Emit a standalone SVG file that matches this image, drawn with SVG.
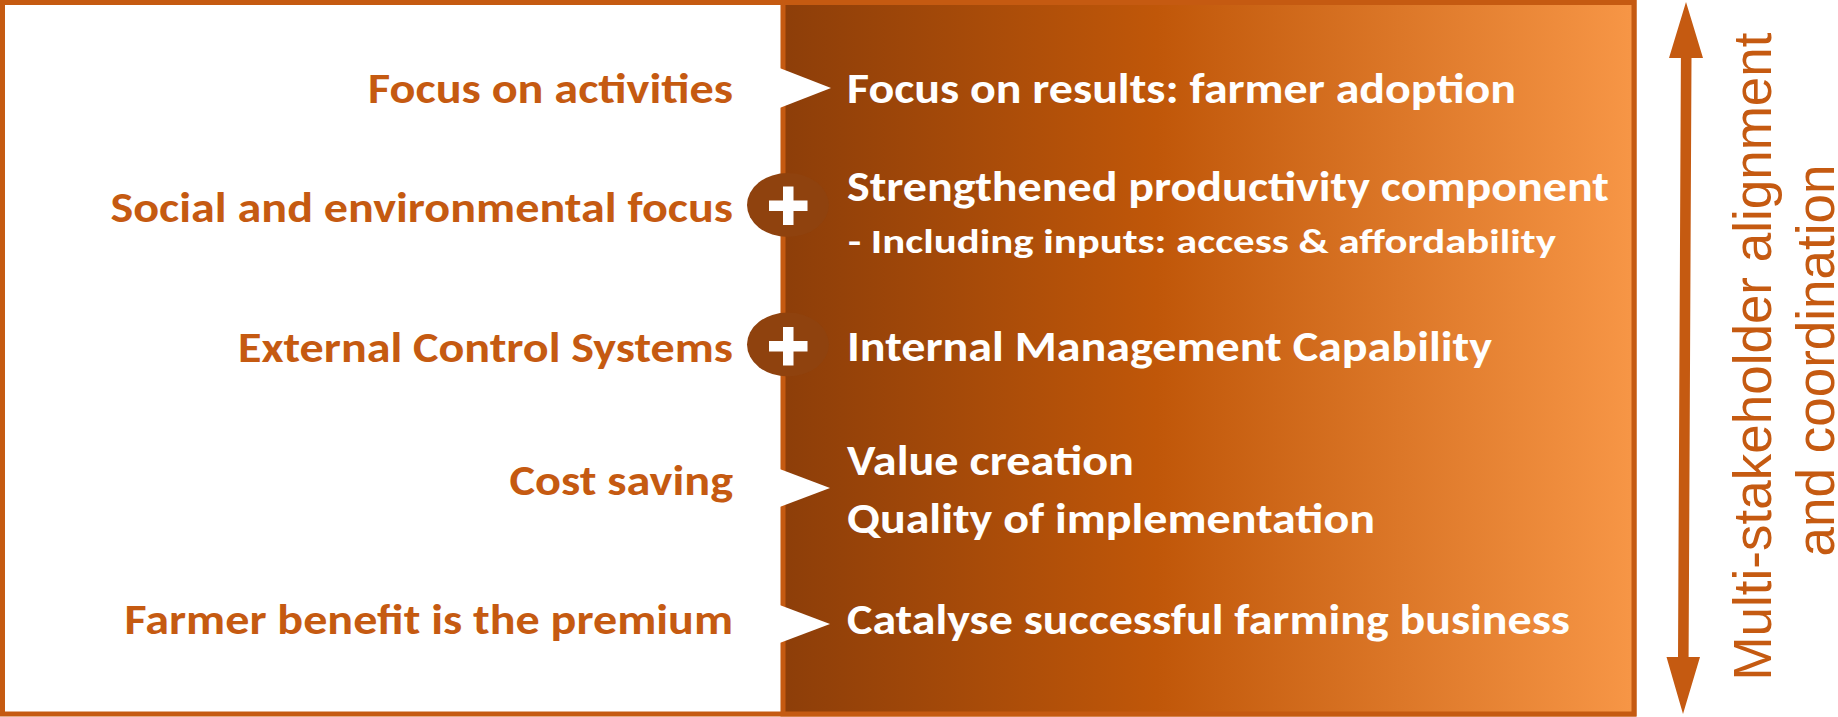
<svg xmlns="http://www.w3.org/2000/svg" width="1838" height="717" viewBox="0 0 1838 717">
  <style>
    .lt { font-family: Carlito, Lato, "Open Sans", sans-serif; font-weight: bold; font-size: 42px; fill: #C55A11; text-anchor: end; }
    .rt { font-family: Carlito, Lato, "Open Sans", sans-serif; font-weight: bold; font-size: 42px; fill: #FFFFFF; }
    .rs { font-family: Carlito, Lato, "Open Sans", sans-serif; font-weight: bold; font-size: 35px; fill: #FFFFFF; }
    .vt { font-family: "Liberation Sans", Arial, sans-serif; font-size: 53px; fill: #C55A11; text-anchor: middle; }
    .notch { fill: #FFFFFF; }
    .plusbg { fill: #8F420E; }
    .plus { fill: #FFFFFF; }
  </style>
  <defs>
    <linearGradient id="grad" x1="0" y1="0" x2="1" y2="0">
      <stop offset="0" stop-color="#8D3E09"/>
      <stop offset="0.44" stop-color="#C05709"/>
      <stop offset="1" stop-color="#F79646"/>
    </linearGradient>
  </defs>

  <g id="frame">
    <rect x="2.5" y="2.5" width="1631.5" height="711.5" fill="#FFFFFF" stroke="#C55A11" stroke-width="5"/>
    <rect x="783" y="2.5" width="851" height="711.5" fill="url(#grad)" stroke="#C55A11" stroke-width="5"/>
  </g>

  <g id="connectors">
    <polygon class="notch" points="777,67 831,88 777,109"/>
    <polygon class="notch" points="777,468 830,488 777,508"/>
    <polygon class="notch" points="777,604 830,624 777,644"/>
    <ellipse class="plusbg" cx="788" cy="205" rx="41" ry="32"/>
    <path class="plus" d="M783,186.5 h10.5 v14 h14 v10.5 h-14 v14 h-10.5 v-14 h-14 v-10.5 h14 z"/>
    <ellipse class="plusbg" cx="788" cy="344.5" rx="41" ry="32"/>
    <path class="plus" d="M783,327 h10.5 v14 h14 v10.5 h-14 v14 h-10.5 v-14 h-14 v-10.5 h14 z"/>
    <polygon fill="#C55A11" points="1686,2 1703,58 1691.5,58 1688.6,657 1700,657 1683,714 1666.5,657 1678,657 1680.9,58 1669,58"/>
  </g>

  <g id="row1">
    <text class="lt" x="733" y="102.5" textLength="365" lengthAdjust="spacingAndGlyphs">Focus on activities</text>
    <text class="rt" x="847" y="102.5" textLength="669" lengthAdjust="spacingAndGlyphs">Focus on results: farmer adoption</text>
  </g>
  <g id="row2">
    <text class="lt" x="733" y="221.5" textLength="622.5" lengthAdjust="spacingAndGlyphs">Social and environmental focus</text>
    <text class="rt" x="847" y="200.5" textLength="762" lengthAdjust="spacingAndGlyphs">Strengthened productivity component</text>
    <text class="rs" x="848" y="253" textLength="708" lengthAdjust="spacingAndGlyphs">- Including inputs: access &amp; affordability</text>
  </g>
  <g id="row3">
    <text class="lt" x="733" y="361.5" textLength="495" lengthAdjust="spacingAndGlyphs">External Control Systems</text>
    <text class="rt" x="847" y="360.7" textLength="645" lengthAdjust="spacingAndGlyphs">Internal Management Capability</text>
  </g>
  <g id="row4">
    <text class="lt" x="733" y="495" textLength="223.5" lengthAdjust="spacingAndGlyphs">Cost saving</text>
    <text class="rt" x="847" y="475" textLength="287" lengthAdjust="spacingAndGlyphs">Value creation</text>
    <text class="rt" x="847" y="532.5" textLength="528" lengthAdjust="spacingAndGlyphs">Quality of implementation</text>
  </g>
  <g id="row5">
    <text class="lt" x="733" y="634" textLength="608.5" lengthAdjust="spacingAndGlyphs">Farmer benefit is the premium</text>
    <text class="rt" x="847" y="634" textLength="723" lengthAdjust="spacingAndGlyphs">Catalyse successful farming business</text>
  </g>

  <g id="side-label">
    <text class="vt" transform="translate(1771,356.5) rotate(-90)">Multi-stakeholder alignment</text>
    <text class="vt" transform="translate(1834,360.5) rotate(-90)">and coordination</text>
  </g>
</svg>
